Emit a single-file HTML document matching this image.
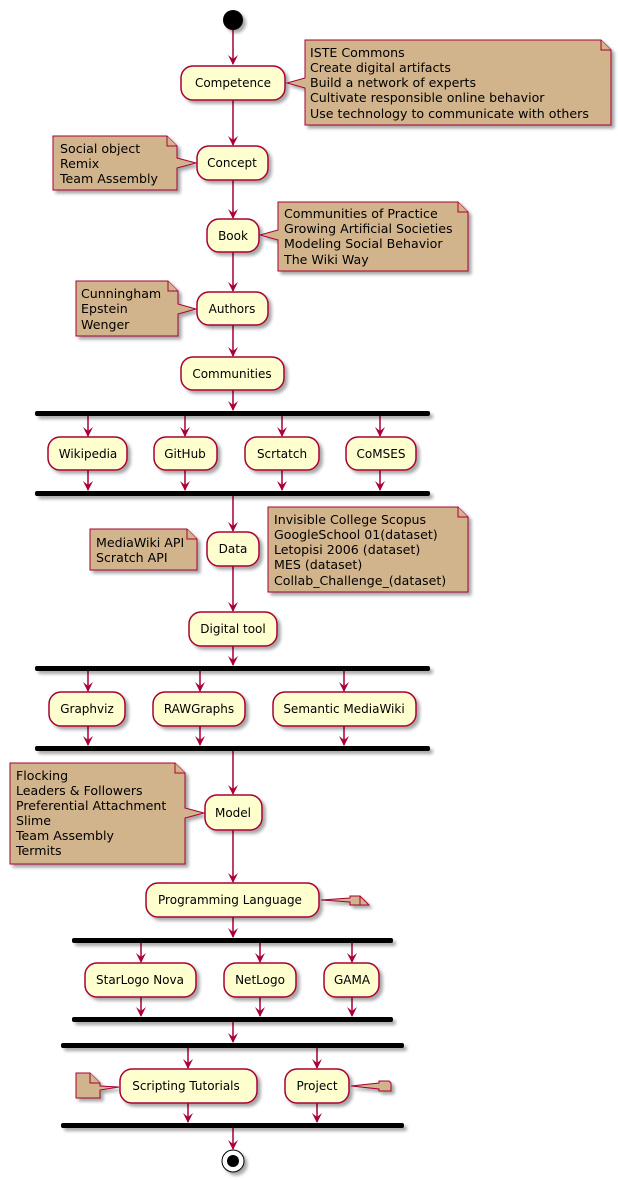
<!DOCTYPE html>
<html><head><meta charset="utf-8"><style>
html,body{margin:0;padding:0;background:#fff}
svg{display:block}
text{font-family:"DejaVu Sans","Liberation Sans",sans-serif;fill:#000}
.b{fill:#FEFECE;stroke:#A80036;stroke-width:1.5}
.n{fill:#D2B48C;stroke:#A80036;stroke-width:1}
.l{stroke:#A80036;stroke-width:1.5;fill:none}
.a{fill:#A80036}
.t{font-size:12px;text-anchor:middle}
.nt{font-size:12.6px}
.bar{fill:#000}
</style></head><body>
<svg width="618" height="1181" viewBox="0 0 618 1181" xmlns="http://www.w3.org/2000/svg">
<defs>
<filter id="s" x="-10%" y="-10%" width="130%" height="140%"><feGaussianBlur in="SourceAlpha" stdDeviation="1.5"/><feOffset dx="3" dy="3"/><feComponentTransfer><feFuncA type="linear" slope="0.35"/></feComponentTransfer><feMerge><feMergeNode/><feMergeNode in="SourceGraphic"/></feMerge></filter>
</defs>

<g class="l">
<line x1="233" y1="30" x2="233" y2="64"/>
<line x1="233" y1="100" x2="233" y2="145"/>
<line x1="233" y1="180" x2="233" y2="218"/>
<line x1="233" y1="252" x2="233" y2="291"/>
<line x1="233" y1="325" x2="233" y2="356"/>
<line x1="233" y1="390" x2="233" y2="410"/>
<line x1="88" y1="416" x2="88" y2="436"/><line x1="185" y1="416" x2="185" y2="436"/><line x1="282" y1="416" x2="282" y2="436"/><line x1="380" y1="416" x2="380" y2="436"/>
<line x1="88" y1="470" x2="88" y2="490"/><line x1="185" y1="470" x2="185" y2="490"/><line x1="282" y1="470" x2="282" y2="490"/><line x1="380" y1="470" x2="380" y2="490"/>
<line x1="233" y1="496" x2="233" y2="531"/>
<line x1="233" y1="566" x2="233" y2="611"/>
<line x1="233" y1="646" x2="233" y2="665"/>
<line x1="88" y1="671" x2="88" y2="691"/><line x1="200" y1="671" x2="200" y2="691"/><line x1="344" y1="671" x2="344" y2="691"/>
<line x1="88" y1="726" x2="88" y2="745"/><line x1="200" y1="726" x2="200" y2="745"/><line x1="344" y1="726" x2="344" y2="745"/>
<line x1="233" y1="751" x2="233" y2="794"/>
<line x1="233" y1="830" x2="233" y2="882"/>
<line x1="233" y1="917" x2="233" y2="937"/>
<line x1="141" y1="943" x2="141" y2="962"/><line x1="260" y1="943" x2="260" y2="962"/><line x1="352" y1="943" x2="352" y2="962"/>
<line x1="141" y1="997" x2="141" y2="1016"/><line x1="260" y1="997" x2="260" y2="1016"/><line x1="352" y1="997" x2="352" y2="1016"/>
<line x1="233" y1="1022" x2="233" y2="1042"/>
<line x1="188" y1="1048" x2="188" y2="1068"/><line x1="317" y1="1048" x2="317" y2="1068"/>
<line x1="188" y1="1103" x2="188" y2="1122"/><line x1="317" y1="1103" x2="317" y2="1122"/>
<line x1="233" y1="1128" x2="233" y2="1149"/>
</g>
<g class="a">
<path d="M233 65l-5 -10l5 4l5 -4z"/>
<path d="M233 146l-5 -10l5 4l5 -4z"/>
<path d="M233 219l-5 -10l5 4l5 -4z"/>
<path d="M233 292l-5 -10l5 4l5 -4z"/>
<path d="M233 357l-5 -10l5 4l5 -4z"/>
<path d="M233 411l-5 -10l5 4l5 -4z"/>
<path d="M88 437l-5 -10l5 4l5 -4z"/><path d="M185 437l-5 -10l5 4l5 -4z"/><path d="M282 437l-5 -10l5 4l5 -4z"/><path d="M380 437l-5 -10l5 4l5 -4z"/>
<path d="M88 491l-5 -10l5 4l5 -4z"/><path d="M185 491l-5 -10l5 4l5 -4z"/><path d="M282 491l-5 -10l5 4l5 -4z"/><path d="M380 491l-5 -10l5 4l5 -4z"/>
<path d="M233 532l-5 -10l5 4l5 -4z"/>
<path d="M233 612l-5 -10l5 4l5 -4z"/>
<path d="M233 666l-5 -10l5 4l5 -4z"/>
<path d="M88 692l-5 -10l5 4l5 -4z"/><path d="M200 692l-5 -10l5 4l5 -4z"/><path d="M344 692l-5 -10l5 4l5 -4z"/>
<path d="M88 746l-5 -10l5 4l5 -4z"/><path d="M200 746l-5 -10l5 4l5 -4z"/><path d="M344 746l-5 -10l5 4l5 -4z"/>
<path d="M233 795l-5 -10l5 4l5 -4z"/>
<path d="M233 883l-5 -10l5 4l5 -4z"/>
<path d="M233 938l-5 -10l5 4l5 -4z"/>
<path d="M141 963l-5 -10l5 4l5 -4z"/><path d="M260 963l-5 -10l5 4l5 -4z"/><path d="M352 963l-5 -10l5 4l5 -4z"/>
<path d="M141 1017l-5 -10l5 4l5 -4z"/><path d="M260 1017l-5 -10l5 4l5 -4z"/><path d="M352 1017l-5 -10l5 4l5 -4z"/>
<path d="M233 1043l-5 -10l5 4l5 -4z"/>
<path d="M188 1069l-5 -10l5 4l5 -4z"/><path d="M317 1069l-5 -10l5 4l5 -4z"/>
<path d="M188 1123l-5 -10l5 4l5 -4z"/><path d="M317 1123l-5 -10l5 4l5 -4z"/>
<path d="M233 1150l-5 -10l5 4l5 -4z"/>
</g>

<g filter="url(#s)">
<circle cx="233" cy="20" r="10" fill="#000"/>

<rect class="bar" x="35" y="411" width="395" height="5" rx="2"/>
<rect class="bar" x="35" y="491" width="395" height="5" rx="2"/>
<rect class="bar" x="35" y="666" width="395" height="5" rx="2"/>
<rect class="bar" x="35" y="746" width="395" height="5" rx="2"/>
<rect class="bar" x="72" y="938" width="321" height="5" rx="2"/>
<rect class="bar" x="72" y="1017" width="321" height="5" rx="2"/>
<rect class="bar" x="61" y="1043" width="343" height="5" rx="2"/>
<rect class="bar" x="61" y="1123" width="343" height="5" rx="2"/>

<rect class="b" x="181" y="66" width="104" height="34" rx="12"/>
<rect class="b" x="197" y="146" width="71" height="34" rx="12"/>
<rect class="b" x="207" y="219" width="52" height="33" rx="12"/>
<rect class="b" x="197" y="292" width="71" height="33" rx="12"/>
<rect class="b" x="181" y="357" width="103" height="33" rx="12"/>
<rect class="b" x="48" y="437" width="79" height="33" rx="12"/>
<rect class="b" x="154" y="437" width="63" height="33" rx="12"/>
<rect class="b" x="245" y="437" width="74" height="33" rx="12"/>
<rect class="b" x="346" y="437" width="70" height="33" rx="12"/>
<rect class="b" x="207" y="532" width="52" height="34" rx="12"/>
<rect class="b" x="189" y="612" width="88" height="34" rx="12"/>
<rect class="b" x="49" y="692" width="76" height="34" rx="12"/>
<rect class="b" x="153" y="692" width="92" height="34" rx="12"/>
<rect class="b" x="273" y="692" width="143" height="34" rx="12"/>
<rect class="b" x="205" y="795" width="57" height="35" rx="12"/>
<rect class="b" x="146" y="883" width="173" height="34" rx="12"/>
<rect class="b" x="85" y="963" width="111" height="34" rx="12"/>
<rect class="b" x="224" y="963" width="72" height="34" rx="12"/>
<rect class="b" x="324" y="963" width="55" height="34" rx="12"/>
<rect class="b" x="120" y="1069" width="137" height="34" rx="12"/>
<rect class="b" x="285" y="1069" width="64" height="34" rx="12"/>

<circle cx="233" cy="1161" r="11" fill="#fff" stroke="#000" stroke-width="1"/>
<circle cx="233" cy="1161" r="6" fill="#000"/>

<path class="n" d="M305 40H601L611 50V125H305V88L287 83L305 78Z"/>
<path class="n" d="M601 40V50H611" fill="none"/>
<path class="n" d="M53 136H167L177 146V158L196 163L177 168V190H53Z"/>
<path class="n" d="M167 136V146H177" fill="none"/>
<path class="n" d="M278 202H458L468 212V271H278V240L260 235L278 230Z"/>
<path class="n" d="M458 202V212H468" fill="none"/>
<path class="n" d="M76 281H168L178 291V304L196 309L178 314V336H76Z"/>
<path class="n" d="M168 281V291H178" fill="none"/>
<path class="n" d="M90 529H187L197 539V570H90Z"/>
<path class="n" d="M187 529V539H197" fill="none"/>
<path class="n" d="M268 507H458L468 517V592H268Z"/>
<path class="n" d="M458 507V517H468" fill="none"/>
<path class="n" d="M10 763H175L185 773V808L204 813L185 818V864H10Z"/>
<path class="n" d="M175 763V773H185" fill="none"/>
<path class="n" d="M350 896H360L369 905H350V902L321 900L350 898Z"/>
<path class="n" d="M360 896V905" fill="none"/>
<path class="n" d="M76 1073H90L100 1083V1086L119 1087L100 1090V1098H76Z"/>
<path class="n" d="M90 1073V1083H100" fill="none"/>
<path class="n" d="M379 1081H389L391 1083V1091H379V1089L351 1086L379 1083Z"/>
</g>

<text class="t" x="233" y="87">Competence</text>
<text class="t" x="232" y="167">Concept</text>
<text class="t" x="233" y="240">Book</text>
<text class="t" x="232" y="313">Authors</text>
<text class="t" x="232" y="378">Communities</text>
<text class="t" x="88" y="458">Wikipedia</text>
<text class="t" x="185" y="458">GitHub</text>
<text class="t" x="282" y="458">Scrtatch</text>
<text class="t" x="381" y="458">CoMSES</text>
<text class="t" x="233" y="553">Data</text>
<text class="t" x="233" y="633">Digital tool</text>
<text class="t" x="87" y="713">Graphviz</text>
<text class="t" x="199" y="713">RAWGraphs</text>
<text class="t" x="344" y="713">Semantic MediaWiki</text>
<text class="t" x="233" y="817">Model</text>
<text class="t" x="230" y="904">Programming Language</text>
<text class="t" x="140" y="984">StarLogo Nova</text>
<text class="t" x="260" y="984">NetLogo</text>
<text class="t" x="352" y="984">GAMA</text>
<text class="t" x="186" y="1090">Scripting Tutorials</text>
<text class="t" x="317" y="1090">Project</text>

<text class="nt" x="310" y="57">ISTE Commons</text>
<text class="nt" x="310" y="72">Create digital artifacts</text>
<text class="nt" x="310" y="87">Build a network of experts</text>
<text class="nt" x="310" y="102">Cultivate responsible online behavior</text>
<text class="nt" x="310" y="118">Use technology to communicate with others</text>
<text class="nt" x="60" y="153">Social object</text>
<text class="nt" x="60" y="168">Remix</text>
<text class="nt" x="60" y="183">Team Assembly</text>
<text class="nt" x="284" y="218">Communities of Practice</text>
<text class="nt" x="284" y="233">Growing Artificial Societies</text>
<text class="nt" x="284" y="248">Modeling Social Behavior</text>
<text class="nt" x="284" y="264">The Wiki Way</text>
<text class="nt" x="81" y="298">Cunningham</text>
<text class="nt" x="81" y="313">Epstein</text>
<text class="nt" x="81" y="329">Wenger</text>
<text class="nt" x="96" y="547">MediaWiki API</text>
<text class="nt" x="96" y="562">Scratch API</text>
<text class="nt" x="274" y="524">Invisible College Scopus</text>
<text class="nt" x="274" y="539">GoogleSchool 01(dataset)</text>
<text class="nt" x="274" y="554">Letopisi 2006 (dataset)</text>
<text class="nt" x="274" y="569">MES  (dataset)</text>
<text class="nt" x="274" y="585">Collab_Challenge_(dataset)</text>
<text class="nt" x="16" y="780">Flocking</text>
<text class="nt" x="16" y="795">Leaders &amp; Followers</text>
<text class="nt" x="16" y="810">Preferential Attachment</text>
<text class="nt" x="16" y="825">Slime</text>
<text class="nt" x="16" y="840">Team Assembly</text>
<text class="nt" x="16" y="855">Termits</text>
</svg>
</body></html>
